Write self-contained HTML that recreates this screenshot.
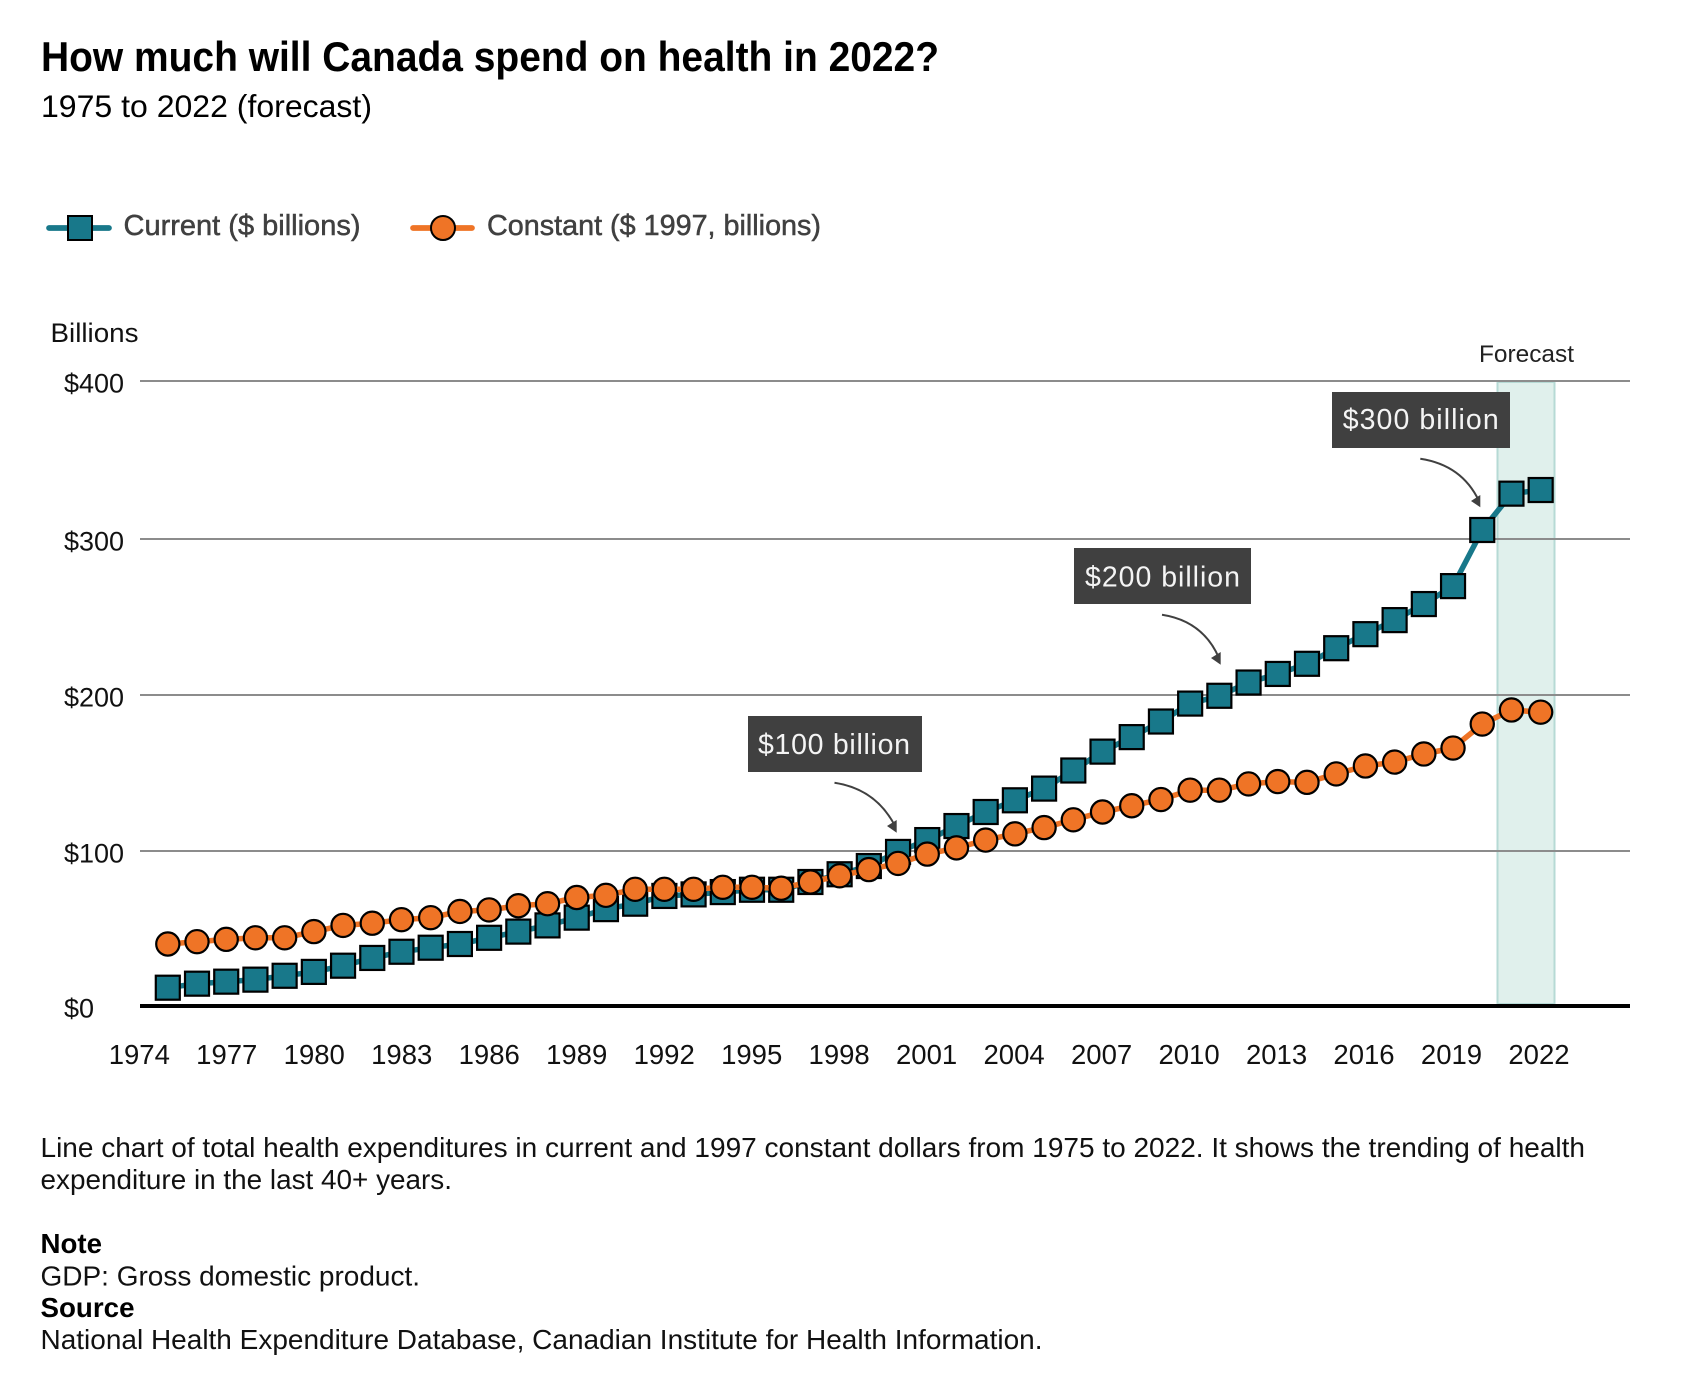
<!DOCTYPE html>
<html lang="en">
<head>
<meta charset="utf-8">
<title>How much will Canada spend on health in 2022?</title>
<style>
html,body{margin:0;padding:0;background:#fff;}
body{width:1700px;height:1400px;overflow:hidden;}
svg{display:block;}
text{font-family:"Liberation Sans",Arial,sans-serif;}
</style>
</head>
<body>
<svg id="chart" width="1700" height="1400" viewBox="0 0 1700 1400" xmlns="http://www.w3.org/2000/svg">
  <rect x="0" y="0" width="1700" height="1400" fill="#ffffff"/>
  <text x="41" y="71" font-size="42" font-weight="700" fill="#000" textLength="898" lengthAdjust="spacingAndGlyphs">How much will Canada spend on health in 2022?</text>
  <text x="41" y="117" font-size="31.5" fill="#000" textLength="331" lengthAdjust="spacingAndGlyphs">1975 to 2022 (forecast)</text>

  <g>
    <g>
      <line x1="49" y1="228" x2="109" y2="228" stroke="#18788a" stroke-width="5.7" stroke-linecap="round"/>
      <rect x="68" y="216" width="24" height="24" fill="#18788a" stroke="#000" stroke-width="2"/>
      <text x="123.5" y="235" font-size="29" fill="#404040" stroke="#404040" stroke-width="0.5" textLength="237" lengthAdjust="spacingAndGlyphs">Current ($ billions)</text>
    </g>
    <g>
      <line x1="413" y1="228" x2="472" y2="228" stroke="#ef7426" stroke-width="5.7" stroke-linecap="round"/>
      <circle cx="443" cy="228" r="12" fill="#ef7426" stroke="#000" stroke-width="2"/>
      <text x="487" y="235" font-size="29" fill="#404040" stroke="#404040" stroke-width="0.5" textLength="334" lengthAdjust="spacingAndGlyphs">Constant ($ 1997, billions)</text>
    </g>
  </g>

  <text x="50.5" y="342" font-size="27" fill="#111" textLength="88" lengthAdjust="spacingAndGlyphs">Billions</text>
  <text x="1479" y="362" font-size="24" fill="#222" textLength="95" lengthAdjust="spacingAndGlyphs">Forecast</text>

  <rect x="1497.5" y="382" width="57" height="622" fill="#e0f0ec" stroke="#b6dad5" stroke-width="2"/>

  <g id="grid"></g>
  <g id="y-axis"></g>
  <g id="x-axis"></g>
  <g id="series-current"></g>
  <g id="series-constant"></g>

  <g>
    <rect x="748" y="716" width="174" height="56" fill="#404040"/>
    <text x="758" y="754" font-size="28.5" fill="#f4f4f4" textLength="152" lengthAdjust="spacing">$100 billion</text>
    <path d="M834.5,782.7 Q876,789 895,826" fill="none" stroke="#404040" stroke-width="2"/>
    <polygon points="896.7,832.7 887,826 896.7,820" fill="#404040"/>
  </g>
  <g>
    <rect x="1074" y="548" width="177" height="56" fill="#404040"/>
    <text x="1085" y="586.5" font-size="28.5" fill="#f4f4f4" textLength="155" lengthAdjust="spacing">$200 billion</text>
    <path d="M1162,614.7 Q1203,621 1219,658" fill="none" stroke="#404040" stroke-width="2"/>
    <polygon points="1220.7,664.7 1211,658 1220.7,652" fill="#404040"/>
  </g>
  <g>
    <rect x="1332" y="392" width="178" height="56" fill="#404040"/>
    <text x="1342.7" y="429" font-size="28.5" fill="#f4f4f4" textLength="156" lengthAdjust="spacing">$300 billion</text>
    <path d="M1420.3,458.7 Q1462,465 1479,501" fill="none" stroke="#404040" stroke-width="2"/>
    <polygon points="1480.3,507.3 1471,501 1480.3,495" fill="#404040"/>
  </g>

  <g font-size="27.5" fill="#111">
    <text x="40.5" y="1157" textLength="1544.5" lengthAdjust="spacingAndGlyphs">Line chart of total health expenditures in current and 1997 constant dollars from 1975 to 2022. It shows the trending of health</text>
    <text x="40.5" y="1189" textLength="411.5" lengthAdjust="spacingAndGlyphs">expenditure in the last 40+ years.</text>
    <text x="40.5" y="1253" font-weight="700" fill="#000" textLength="61.5" lengthAdjust="spacingAndGlyphs">Note</text>
    <text x="40.5" y="1285.5" textLength="379.5" lengthAdjust="spacingAndGlyphs">GDP: Gross domestic product.</text>
    <text x="40.5" y="1317" font-weight="700" fill="#000" textLength="94" lengthAdjust="spacingAndGlyphs">Source</text>
    <text x="40.5" y="1349" textLength="1002" lengthAdjust="spacingAndGlyphs">National Health Expenditure Database, Canadian Institute for Health Information.</text>
  </g>
</svg>
<script>
const years = [1975,1976,1977,1978,1979,1980,1981,1982,1983,1984,1985,1986,1987,1988,1989,1990,1991,1992,1993,1994,1995,1996,1997,1998,1999,2000,2001,2002,2003,2004,2005,2006,2007,2008,2009,2010,2011,2012,2013,2014,2015,2016,2017,2018,2019,2020,2021,2022];
const currentValues = [11.8,14.4,15.7,17,19.5,22,26,31,35,37.6,40,44,48,52,57,62.5,66,71,72,73.5,75,75,80,85,90.3,99.4,107,116,125,132.5,140,151.6,163.7,173,183,194.5,199.5,208,213.5,220,230,239,248,258.3,269.8,305.7,328.7,331];
const constantValues = [40,41.5,43,44,44,48,52,53.4,55.7,57,61,62,64.7,66,70,71.4,75.3,75.3,75.3,76.6,76.6,76,80,84,88,92,98,102,107,111,115,120,125,129,133,139,139,143,144.5,144,149.4,154.5,157,162.2,166,181.4,190.4,189];
const yTickValues = [0,100,200,300,400];
const yTickLabels = ["$0","$100","$200","$300","$400"];
const xTickYears = [1974,1977,1980,1983,1986,1989,1992,1995,1998,2001,2004,2007,2010,2013,2016,2019,2022];

const SVG_NS = "http://www.w3.org/2000/svg";
function x(year){ return 167.8 + (year - 1975) * 29.21; }
function xTick(year){ return 139.3 + (year - 1974) * 29.16; }
function y(value){
  const stops = [1006, 851, 695, 539, 381];
  const i = Math.max(0, Math.min(3, Math.floor(value / 100)));
  return stops[i] + (stops[i + 1] - stops[i]) * (value - i * 100) / 100;
}
function make(tag, attrs, parent){
  const el = document.createElementNS(SVG_NS, tag);
  for (const k in attrs) el.setAttribute(k, attrs[k]);
  parent.appendChild(el);
  return el;
}

const gridGroup = document.getElementById("grid");
const yAxisGroup = document.getElementById("y-axis");
const xAxisGroup = document.getElementById("x-axis");
const currentGroup = document.getElementById("series-current");
const constantGroup = document.getElementById("series-constant");

yTickValues.forEach(function(v, i){
  const gl = make("line", {x1:140, x2:1630, y1:y(v), y2:y(v), stroke: v === 0 ? "#000" : "#8c8c8c", "stroke-width": v === 0 ? 4 : 2}, gridGroup);
  
  
  const lab = make("text", {x:64, y:y(v) + 11.5, "font-size":27, fill:"#111"}, yAxisGroup);
  lab.textContent = yTickLabels[i];
  
  
});

xTickYears.forEach(function(t){
  const lab = make("text", {x:xTick(t), y:1064, "font-size":27.5, fill:"#111", "text-anchor":"middle"}, xAxisGroup);
  lab.textContent = String(t);
  
  
});

function pathFor(values){
  return values.map(function(v, i){ return (i ? "L" : "M") + x(years[i]).toFixed(1) + "," + y(v).toFixed(1); }).join(" ");
}

const currentLine = make("path", {d:pathFor(currentValues), fill:"none", stroke:"#18788a", "stroke-width":5.5, "stroke-linejoin":"round"}, currentGroup);


currentValues.forEach(function(v, i){
  const sq = make("rect", {x:x(years[i]) - 12, y:y(v) - 12, width:24, height:24, fill:"#18788a", stroke:"#000", "stroke-width":2.2}, currentGroup);
  
  
});

const constantLine = make("path", {d:pathFor(constantValues), fill:"none", stroke:"#ef7426", "stroke-width":5.5, "stroke-linejoin":"round"}, constantGroup);


constantValues.forEach(function(v, i){
  const c = make("circle", {cx:x(years[i]), cy:y(v), r:11.6, fill:"#ef7426", stroke:"#000", "stroke-width":2.2}, constantGroup);
  
  
});
</script>
</body>
</html>
